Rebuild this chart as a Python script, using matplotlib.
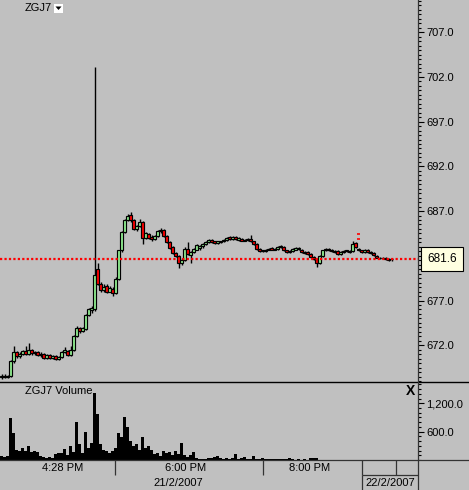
import matplotlib
matplotlib.use('Agg')
import matplotlib.pyplot as plt
from matplotlib.patches import Rectangle, Polygon
from matplotlib.lines import Line2D
from matplotlib.ticker import MultipleLocator, FixedLocator, FixedFormatter
import matplotlib.transforms as mtransforms

plt.rcParams['font.family'] = ['Liberation Sans', 'DejaVu Sans']

# ---------------- data ----------------
symbol = "ZGJ7"
last_price = 681.6

opens = [668.4, 668.6, 668.5, 668.6, 670.2, 671.2, 670.8, 671.0, 671.4, 671.0,
         671.5, 671.1, 671.2, 670.9, 671.0, 670.6, 670.9, 670.6, 670.8, 670.5,
         670.7, 671.2, 671.4, 670.9, 671.5, 673.0, 673.9, 673.6, 673.8, 675.4,
         675.9, 676.1, 680.5, 678.9, 678.2, 678.6, 678.0, 678.3, 677.8, 679.4,
         682.6, 684.7, 686.0, 686.6, 686.0, 685.0, 685.3, 685.8, 684.0, 684.4,
         684.1, 683.9, 684.2, 684.8, 684.9, 684.2, 683.5, 683.0, 682.3, 682.0,
         681.2, 681.5, 682.8, 682.1, 682.4, 682.7, 682.9, 683.1, 683.3, 683.5,
         683.8, 683.6, 683.4, 683.5, 683.6, 683.8, 684.1, 683.9, 684.1, 683.8,
         683.9, 683.7, 683.8, 683.9, 683.6, 683.3, 682.8, 682.5, 682.5, 682.7,
         682.9, 682.7, 682.8, 683.0, 683.0, 682.6, 682.4, 682.5, 682.7, 682.8,
         682.7, 682.4, 682.4, 682.2, 681.9, 681.6, 681.2, 682.0, 682.6, 682.8,
         682.7, 682.4, 682.5, 682.2, 682.4, 682.5, 682.5, 682.5, 683.4, 682.8,
         682.6, 682.4, 682.7, 682.4, 682.3, 682.0, 681.8, 681.7, 681.8, 681.5,
         681.6]
highs = [668.8, 668.8, 668.7, 670.4, 671.9, 671.4, 671.2, 671.5, 671.9, 672.2,
         671.6, 671.4, 671.3, 671.2, 671.1, 671.0, 671.0, 670.9, 670.9, 670.8,
         671.3, 671.8, 671.5, 671.9, 673.1, 674.1, 674.0, 674.0, 675.5, 676.2,
         676.4, 703.1, 681.2, 679.1, 678.8, 678.8, 678.6, 678.5, 679.6, 682.7,
         684.8, 686.1, 686.7, 686.9, 686.1, 685.4, 686.1, 685.9, 684.7, 684.6,
         684.3, 684.3, 684.9, 685.1, 685.0, 684.3, 683.6, 683.1, 682.4, 682.1,
         681.7, 683.0, 683.5, 682.5, 682.9, 683.3, 683.2, 683.4, 683.6, 683.9,
         683.9, 683.7, 683.7, 683.7, 683.9, 684.1, 684.2, 684.2, 684.2, 684.1,
         684.0, 683.9, 684.0, 684.3, 683.7, 683.4, 682.9, 682.7, 682.8, 682.9,
         683.0, 682.9, 683.1, 683.2, 683.1, 682.7, 682.6, 682.9, 683.0, 683.0,
         682.8, 682.5, 682.5, 682.3, 682.0, 681.7, 682.1, 682.7, 682.9, 682.9,
         682.8, 682.6, 682.6, 682.5, 682.6, 682.7, 682.6, 683.6, 683.5, 682.9,
         682.7, 682.8, 682.8, 682.5, 682.4, 682.1, 681.9, 681.9, 681.9, 681.7,
         681.7]
lows = [668.2, 668.3, 668.3, 668.5, 670.0, 670.6, 670.6, 670.9, 670.9, 670.9,
        670.9, 670.9, 670.8, 670.7, 670.5, 670.5, 670.5, 670.5, 670.4, 670.4,
        670.6, 671.1, 670.8, 670.8, 671.4, 672.9, 673.4, 673.5, 673.7, 675.3,
        675.6, 675.8, 678.7, 678.0, 678.0, 677.8, 677.9, 677.5, 677.7, 679.3,
        682.4, 684.6, 685.9, 685.8, 684.9, 684.8, 685.2, 683.3, 683.9, 683.9,
        683.7, 683.8, 684.1, 684.6, 684.1, 683.4, 682.8, 682.2, 681.9, 680.6,
        681.0, 681.4, 682.1, 681.2, 682.3, 682.6, 682.7, 682.9, 683.2, 683.4,
        683.4, 683.3, 683.3, 683.4, 683.5, 683.7, 683.8, 683.8, 683.8, 683.7,
        683.6, 683.6, 683.7, 683.5, 683.2, 682.7, 682.4, 682.4, 682.4, 682.6,
        682.6, 682.6, 682.7, 682.9, 682.5, 682.3, 682.3, 682.4, 682.6, 682.7,
        682.3, 682.2, 682.1, 681.8, 681.5, 680.8, 681.1, 681.9, 682.5, 682.5,
        682.4, 682.3, 682.1, 682.1, 682.3, 682.4, 682.3, 682.4, 682.9, 682.5,
        682.3, 682.3, 682.3, 682.2, 682.0, 681.7, 681.6, 681.6, 681.5, 681.4,
        681.4]
closes = [668.6, 668.5, 668.6, 670.2, 671.2, 670.8, 671.0, 671.3, 671.0, 671.5,
          671.1, 671.2, 670.9, 671.0, 670.6, 670.9, 670.6, 670.8, 670.5, 670.7,
          671.2, 671.5, 670.9, 671.5, 673.0, 673.9, 673.6, 673.9, 675.4, 676.1,
          676.2, 679.8, 678.9, 678.2, 678.5, 678.0, 678.4, 677.8, 679.4, 682.6,
          684.7, 686.0, 686.4, 686.0, 685.0, 685.3, 685.8, 684.0, 684.5, 684.0,
          683.9, 684.2, 684.8, 684.9, 684.2, 683.5, 682.9, 682.3, 682.0, 681.2,
          681.5, 682.8, 682.2, 682.4, 682.8, 683.2, 683.1, 683.3, 683.5, 683.8,
          683.5, 683.4, 683.6, 683.6, 683.8, 684.0, 683.9, 684.1, 683.9, 684.0,
          683.7, 683.8, 683.9, 683.6, 683.3, 682.8, 682.5, 682.6, 682.7, 682.8,
          682.7, 682.8, 683.0, 683.1, 682.6, 682.4, 682.5, 682.8, 682.9, 682.9,
          682.4, 682.3, 682.2, 681.9, 681.6, 681.2, 682.0, 682.6, 682.8, 682.6,
          682.5, 682.5, 682.2, 682.4, 682.5, 682.6, 682.4, 683.3, 683.0, 682.6,
          682.4, 682.7, 682.4, 682.3, 682.1, 681.8, 681.7, 681.8, 681.6, 681.6,
          681.6]

volumes = [80, 60, 90, 880, 580, 220, 180, 250, 200, 300,
           160, 190, 170, 90, 60, 50, 70, 40, 120, 150,
           140, 230, 110, 300, 160, 810, 340, 150, 600, 250,
           360, 1410, 980, 330, 220, 200, 150, 180, 250, 580,
           480, 900, 690, 400, 300, 330, 220, 480, 250, 300,
           210, 120, 150, 90, 200, 140, 160, 100, 180, 120,
           360, 100, 60, 110, 170, 40, 20, 25, 30, 40,
           50, 60, 80, 45, 30, 40, 25, 35, 120, 30,
           40, 60, 25, 30, 80, 20, 30, 50, 20, 15,
           20, 15, 25, 15, 30, 20, 50, 15, 10, 15,
           10, 15, 10, 40, 45, 50, 10]

stray_tick_bar = 119
stray_tick_prices = [684.4, 683.9]

price_ticks = [672.0, 677.0, 682.0, 687.0, 692.0, 697.0, 702.0, 707.0]
volume_ticks = [600.0, 1200.0]
volume_tick_labels = ["600.0", "1,200.0"]

time_labels = ["4:28 PM", "6:00 PM", "8:00 PM"]
time_label_pos = [20.5, 61.5, 102.8]
time_separators = [37.8, 87.2, 120.2, 131.5]
date_labels = ["21/2/2007", "22/2/2007"]
date_label_pos = [58.8, 129.5]
date_separators = [120.2]

# ---------------- layout ----------------
W, H = 469, 490
BG = '#c0c0c0'
UP = '#90ee90'
DN = '#ff0000'

fig = plt.figure(figsize=(W / 100, H / 100), dpi=100, facecolor=BG)

def fx(px):
    return px / W

def fy(py):
    return 1 - py / H

price_top, price_bot = 0, 381
vol_top, vol_bot = 382, 460
axis_right = 418
px_per_bar = 3.0
XMIN = -0.5
XMAX = XMIN + axis_right / px_per_bar

ax = fig.add_axes([0, fy(price_bot), fx(axis_right), (price_bot - price_top) / H])
axv = fig.add_axes([0, fy(vol_bot), fx(axis_right), (vol_bot - vol_top) / H])
axt = fig.add_axes([0, 0, 1, fy(vol_bot)])

for a in (ax, axv, axt):
    a.set_facecolor(BG)
    for s in a.spines.values():
        s.set_visible(False)

# ---------------- price panel ----------------
ax.set_xlim(XMIN, XMAX)
ax.set_ylim(668.0, 710.6)
for i, (o, h, l, c) in enumerate(zip(opens, highs, lows, closes)):
    col = UP if c >= o else DN
    ax.vlines(i, l, h, color='black', lw=1.0, zorder=2)
    bottom = min(o, c)
    height = max(abs(c - o), 0.06)
    ax.add_patch(Rectangle((i - 0.45, bottom), 0.9, height, facecolor=col,
                           edgecolor='black', lw=0.85, zorder=3))

for p in stray_tick_prices:
    ax.hlines(p, stray_tick_bar - 0.6, stray_tick_bar + 0.6, color=DN, lw=1.2, zorder=3)

ax.axhline(last_price, color='#ff0000', lw=1.6, ls=(0, (1, 1)), zorder=4)

ax.set_xticks([])
ax.yaxis.tick_right()
ax.yaxis.set_major_locator(FixedLocator(price_ticks))
# the 682.0 label sits under the last-price box in the reference, so it is not shown
ax.yaxis.set_major_formatter(FixedFormatter(
    ["" if abs(v - 682.0) < 1e-9 else "%.1f" % v for v in price_ticks]))
ax.yaxis.set_minor_locator(MultipleLocator(0.5))
ax.tick_params(axis='y', which='major', direction='out', length=4, width=0.8,
               pad=2, labelsize=8, colors='black')
ax.tick_params(axis='y', which='minor', direction='out', length=2.5, width=0.8)

trans = mtransforms.blended_transform_factory(ax.transAxes, ax.transData)
ax.text((axis_right + 9) / axis_right, last_price, "%.1f" % last_price,
        transform=trans, ha='left', va='center', fontsize=8.5, zorder=10,
        clip_on=False,
        bbox=dict(boxstyle='square,pad=0.5', facecolor='#ffffe0',
                  edgecolor='black', lw=0.8))

# ---------------- volume panel ----------------
axv.set_xlim(XMIN, XMAX)
axv.set_ylim(0, 1650)
axv.bar(range(len(volumes)), volumes, width=0.75, color='black', linewidth=0)
axv.set_xticks([])
axv.yaxis.tick_right()
axv.yaxis.set_major_locator(FixedLocator(volume_ticks))
axv.yaxis.set_major_formatter(FixedFormatter(volume_tick_labels))
axv.yaxis.set_minor_locator(MultipleLocator(100))
axv.tick_params(axis='y', which='major', direction='out', length=4, width=0.8,
                pad=2, labelsize=8, colors='black')
axv.tick_params(axis='y', which='minor', direction='out', length=2.5, width=0.8)

# ---------------- time axis ----------------
axt.set_xlim(XMIN, XMIN + W / px_per_bar)
axt.set_ylim(0, 2)
axt.set_xticks([])
axt.set_yticks([])
for s in time_separators:
    axt.vlines(s, 1, 2, color='#333333', lw=0.9)
for s in date_separators:
    axt.vlines(s, 0, 1, color='#333333', lw=0.9)
axt.hlines(1, date_separators[0], XMAX, color='#333333', lw=0.9)
for lab, pos in zip(time_labels, time_label_pos):
    axt.text(pos, 1.5, lab, ha='center', va='center', fontsize=8)
for lab, pos in zip(date_labels, date_label_pos):
    axt.text(pos, 0.5, lab, ha='center', va='center', fontsize=8)

# ---------------- frame lines ----------------
fig.add_artist(Line2D([0, 1], [fy(vol_top), fy(vol_top)], color='black', lw=1.0))
fig.add_artist(Line2D([0, 1], [fy(vol_bot), fy(vol_bot)], color='#333333', lw=0.9))
fig.add_artist(Line2D([fx(axis_right), fx(axis_right)], [0, 1], color='#333333', lw=0.9))

# ---------------- titles ----------------
fig.text(fx(25), fy(8), symbol, ha='left', va='center', fontsize=8)
fig.add_artist(Rectangle((fx(54), fy(13)), fx(9), 9 / H, facecolor='white',
                         edgecolor='none', transform=fig.transFigure))
fig.add_artist(Polygon([[fx(55.5), fy(6.5)], [fx(61.5), fy(6.5)], [fx(58.5), fy(10)]],
                       closed=True, facecolor='black', edgecolor='none',
                       transform=fig.transFigure))
fig.text(fx(25), fy(391), symbol + " Volume", ha='left', va='center', fontsize=8)
fig.text(fx(410), fy(391), "X", ha='center', va='center', fontsize=10,
         fontweight='bold')

fig.savefig('out.png', dpi=100, facecolor=BG)
